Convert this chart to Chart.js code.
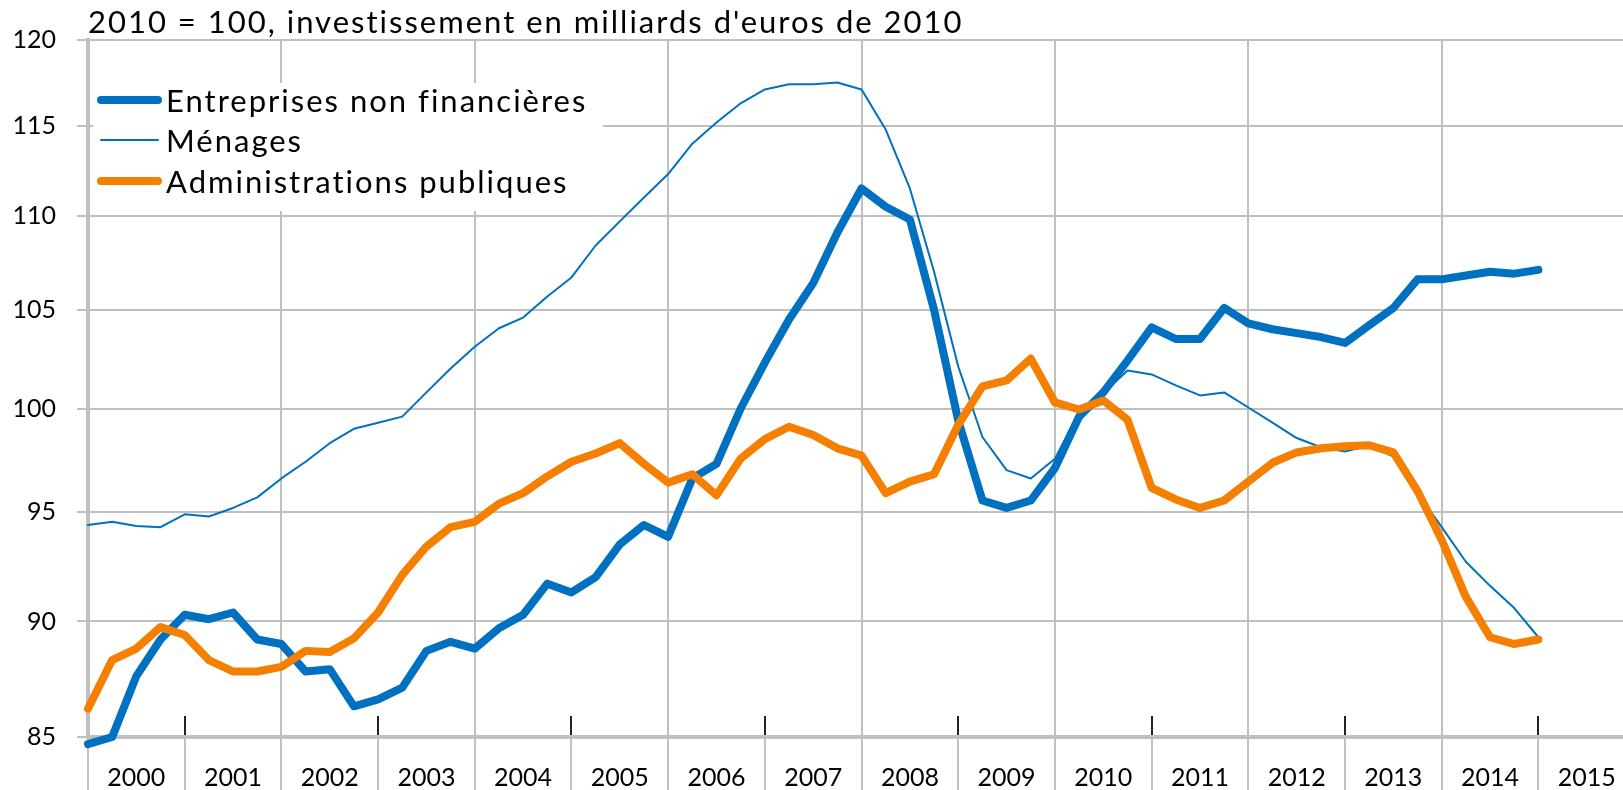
<!DOCTYPE html>
<html lang="fr">
<head>
    <meta charset="UTF-8">
    <title>Investissement par secteur institutionnel</title>
    <script src="https://cdn.jsdelivr.net/npm/chart.js"></script>
    <style>
        html, body { margin: 0; padding: 0; background: #fff; }
        #wrap { width: 1623px; height: 790px; position: relative; }
    </style>
</head>
<body>
<div id="wrap"><canvas id="chart"></canvas></div>
<script>
    // trimestres 2000T1 .. 2015T1, position x = indice du trimestre
    const yearLabels = ['2000', '2001', '2002', '2003', '2004', '2005', '2006', '2007',
        '2008', '2009', '2010', '2011', '2012', '2013', '2014', '2015'];
    const yTicks = [85, 90, 95, 100, 105, 110, 115, 120];
    const titleText = "2010 = 100, investissement en milliards d'euros de 2010";

    const entreprises = [
        84.7, 85.0, 87.6, 89.2, 90.3, 90.1, 90.4, 89.2, 89.0, 87.8,
        87.9, 86.3, 86.6, 87.1, 88.7, 89.1, 88.8, 89.7, 90.3, 91.7,
        91.3, 92.0, 93.5, 94.4, 93.85, 96.6, 97.3, 100.0, 102.3, 104.5,
        106.4, 109.1, 111.5, 110.5, 109.8, 105.0, 99.4, 95.55, 95.2, 95.55,
        97.1, 99.6, 100.8, 102.4, 104.1, 103.5, 103.5, 105.1, 104.3, 104.0,
        103.8, 103.6, 103.3, 104.2, 105.1, 106.6, 106.6, 106.8, 107.0, 106.9,
        107.1
    ];
    const menages = [
        94.4, 94.55, 94.35, 94.3, 94.9, 94.8, 95.2, 95.7, 96.6, 97.4,
        98.3, 99.0, 99.3, 99.6, 100.8, 102.0, 103.1, 104.05, 104.6, 105.7,
        106.7, 108.4, 109.7, 111.0, 112.3, 114.0, 115.2, 116.3, 117.1, 117.4,
        117.4, 117.5, 117.1, 114.8, 111.5, 107.0, 102.1, 98.6, 97.0, 96.6,
        97.55, 99.8, 100.75, 101.9, 101.7, 101.15, 100.65, 100.8, 100.05, 99.3,
        98.55, 98.1, 97.9, 98.2, 97.65, 95.9, 94.3, 92.7, 91.6, 90.6,
        89.3
    ];
    const administrations = [
        86.2, 88.3, 88.8, 89.75, 89.4, 88.3, 87.8, 87.8, 88.0, 88.7,
        88.65, 89.25, 90.4, 92.1, 93.4, 94.3, 94.55, 95.4, 95.9, 96.7,
        97.4, 97.8, 98.3, 97.3, 96.4, 96.8, 95.8, 97.55, 98.5, 99.1,
        98.7, 98.05, 97.7, 95.9, 96.45, 96.8, 99.2, 101.1, 101.4, 102.5,
        100.3, 99.95, 100.4, 99.45, 96.15, 95.6, 95.2, 95.55, 96.45, 97.35,
        97.85, 98.05, 98.15, 98.2, 97.85, 96.0, 93.7, 91.1, 89.3, 89.0,
        89.2
    ];

    const BLUE = '#0070C0';
    const ORANGE = '#F47F00';
    const GRID = '#C0C0C0';
    const NONE = 'rgba(0,0,0,0)';
    const FONT = 'Lato, "Noto Sans", sans-serif';

    const xTickValues = [];
    for (let v = 0; v <= (yearLabels.length - 1) * 4 + 2; v += 2) xTickValues.push(v);

    const toPoints = arr => arr.map((v, i) => ({ x: i, y: v }));

    // titre + légende encadrée (fond blanc) + petites graduations noires
    const decorPlugin = {
        id: 'decor',
        beforeDatasetsDraw(chart) {
            const ctx = chart.ctx;
            const area = chart.chartArea;
            const xs = chart.scales.x;
            ctx.save();

            // graduations internes des années impaires
            ctx.strokeStyle = '#222';
            ctx.lineWidth = 2;
            for (let v = 4; v <= 60; v += 8) {
                const px = Math.round(xs.getPixelForValue(v));
                ctx.beginPath();
                ctx.moveTo(px, area.bottom - 2);
                ctx.lineTo(px, area.bottom - 21);
                ctx.stroke();
            }

            // titre
            ctx.fillStyle = '#000';
            ctx.font = '31px ' + FONT;
            ctx.letterSpacing = '2px';
            ctx.textBaseline = 'alphabetic';
            ctx.textAlign = 'left';
            ctx.fillText(titleText, area.left, 33);

            // légende
            ctx.fillStyle = '#fff';
            ctx.fillRect(area.left + 5, 83, 510, 128);
            const rows = [100, 140, 181];
            chart.data.datasets.forEach((ds, i) => {
                const y = rows[i];
                ctx.strokeStyle = ds.borderColor;
                ctx.lineWidth = ds.borderWidth;
                ctx.lineCap = 'round';
                ctx.beginPath();
                ctx.moveTo(101, y);
                ctx.lineTo(158, y);
                ctx.stroke();
                ctx.fillStyle = '#000';
                ctx.font = '31px ' + FONT;
                ctx.letterSpacing = '2px';
                ctx.fillText(ds.label, 166, y + 12);
            });
            ctx.restore();
        }
    };

    new Chart(document.getElementById('chart'), {
        type: 'line',
        data: {
            datasets: [
                {
                    label: 'Entreprises non financières',
                    data: toPoints(entreprises),
                    borderColor: BLUE, borderWidth: 8, order: 3
                },
                {
                    label: 'Ménages',
                    data: toPoints(menages),
                    borderColor: BLUE, borderWidth: 2, order: 2
                },
                {
                    label: 'Administrations publiques',
                    data: toPoints(administrations),
                    borderColor: ORANGE, borderWidth: 8, order: 1
                }
            ]
        },
        options: {
            responsive: true,
            maintainAspectRatio: false,
            devicePixelRatio: 1,
            animation: false,
            layout: { padding: { top: 40, left: 0, right: 0, bottom: 0 } },
            elements: {
                point: { radius: 0 },
                line: { tension: 0, borderJoinStyle: 'round', borderCapStyle: 'round', fill: false }
            },
            datasets: { line: { clip: false } },
            plugins: {
                legend: { display: false },
                tooltip: { enabled: false },
                title: { display: false }
            },
            scales: {
                x: {
                    type: 'linear',
                    min: 0,
                    max: 63.5,
                    afterBuildTicks: s => { s.ticks = xTickValues.map(v => ({ value: v })); },
                    afterFit: s => { s.height = 53; },
                    grid: {
                        color: c => (c.tick && c.tick.value % 8 === 0 && c.tick.value > 0) ? GRID : NONE,
                        tickColor: c => (c.tick && c.tick.value % 4 === 0) ? GRID : NONE,
                        lineWidth: 2,
                        tickLength: 53
                    },
                    border: { display: true, color: GRID, width: 4 },
                    ticks: {
                        autoSkip: false,
                        maxRotation: 0,
                        padding: -27,
                        color: '#000',
                        font: { family: FONT, size: 25 },
                        callback: v => (v % 4 === 2) ? yearLabels[(v - 2) / 4] : ''
                    }
                },
                y: {
                    type: 'logarithmic',
                    min: 85,
                    max: 120,
                    afterBuildTicks: s => { s.ticks = yTicks.map(v => ({ value: v })); },
                    afterFit: s => { s.width = 88; },
                    grid: {
                        color: c => (c.tick && c.tick.value === 85) ? NONE : GRID,
                        tickColor: GRID,
                        lineWidth: 2,
                        tickLength: 11
                    },
                    border: { display: true, color: GRID, width: 4 },
                    ticks: {
                        padding: 21,
                        color: '#000',
                        font: { family: FONT, size: 25 },
                        callback: v => String(v)
                    }
                }
            }
        },
        plugins: [decorPlugin]
    });
</script>
</body>
</html>
